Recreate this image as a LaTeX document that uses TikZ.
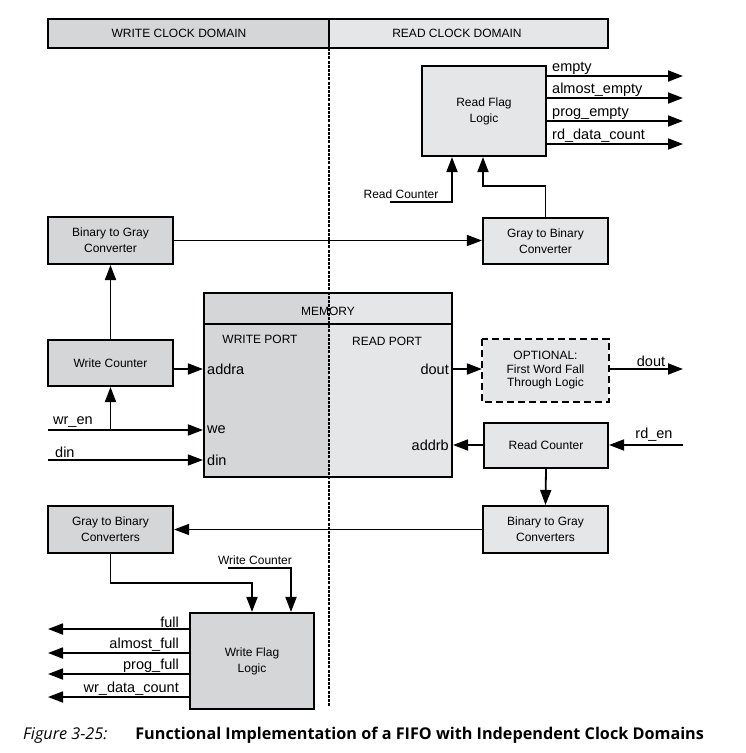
\documentclass[tikz,border=0pt]{standalone}
\usepackage{fontspec}
\setmainfont{Liberation Sans}
\newfontfamily\capfont{Open Sans}
\usetikzlibrary{arrows.meta,positioning,calc}
\definecolor{wrgray}{RGB}{213,214,216}
\definecolor{rdgray}{RGB}{229,230,232}
\tikzset{
  blk/.style={draw,line width=2.1pt,minimum width=125pt,minimum height=46pt,align=center,font=\fontsize{12}{16}\selectfont,inner sep=0pt},
  wblk/.style={blk,fill=wrgray},
  rblk/.style={blk,fill=rdgray},
  sig/.style={line width=1.8pt,-{Triangle[length=15pt,width=11pt]}},
  wire/.style={line width=1.8pt},
  lbl/.style={font=\fontsize{14.5}{16}\selectfont,inner sep=1pt},
  small/.style={font=\fontsize{12}{14}\selectfont,inner sep=1pt},
}
\begin{document}
\begin{tikzpicture}[x=1pt,y=-1pt]
    \useasboundingbox (0,0) rectangle (745,753);

    % clock domain header
    \node[wblk,line width=2.6pt,minimum width=281pt,minimum height=29pt] (whdr) at (188.5,33.5) {};
    \node[rblk,line width=2.6pt,minimum width=279pt,minimum height=29pt] (rhdr) at (468.5,33.5) {};
    \node[small] (wdom) at (179,33) {WRITE CLOCK DOMAIN};
    \node[small] (rdom) at (457,33) {READ CLOCK DOMAIN};

    % read side
    \node[rblk,minimum width=124pt,minimum height=90pt] (rfl) at (484,111) {Read Flag\\Logic};
    \node[rblk] (g2b) at (545.5,241) {Gray to Binary\\Converter};
    \node[rblk,minimum height=61pt,draw=none] (opt) at (545.5,370.5) {OPTIONAL:\\[-2.5pt]First Word Fall\\[-2.5pt]Through Logic};
    \draw[line width=2.8pt,dash pattern=on 7pt off 4pt] (opt.north west) rectangle (opt.south east);
    \node[rblk,minimum width=124pt,minimum height=45pt] (rcnt) at (546,445.5) {Read Counter};
    \node[rblk,minimum height=47pt] (b2gs) at (545.5,529.5) {Binary to Gray\\Converters};

    % write side
    \node[wblk,minimum height=47pt] (b2g) at (110.5,240.5) {Binary to Gray\\Converter};
    \node[wblk] (wcnt) at (110.5,363) {Write Counter};
    \node[wblk,minimum height=47pt] (g2bs) at (110.5,529.5) {Gray to Binary\\Converters};
    \node[wblk,minimum width=124pt,minimum height=96pt] (wfl) at (252,661) {Write Flag\\Logic};

    % memory
    \fill[wrgray] (204,293) rectangle (329,477);
    \fill[rdgray] (329,293) rectangle (452,477);
    \node[draw,line width=2.1pt,minimum width=248pt,minimum height=184pt] (mem) at (328,385) {};
    \draw[line width=1.8pt] (mem.west |- 0,324) -- (mem.east |- 0,324);
    \node[small] (memtxt) at (328,311) {MEMORY};
    \node[small] (wport) at (260,339) {WRITE PORT};
    \node[small] (rport) at (387,341) {READ PORT};
    \node[lbl,anchor=west] (addra) at (206,369) {addra};
    \node[lbl,anchor=west] (we) at (206,430) {we};
    \node[lbl,anchor=west] (din) at (206,460) {din};
    \node[lbl,anchor=east] (dout) at (450,369) {dout};
    \node[lbl,anchor=east] (addrb) at (450,445) {addrb};

    % free ends
    \coordinate (rfout) at (683,0);
    \coordinate (wfout) at (48,0);
    \coordinate (rcin) at (390,202);
    \coordinate (wcin) at (228,568);
    \coordinate (wren) at (48,430);
    \coordinate (dinin) at (48,460);
    \coordinate (doutend) at (683,369);
    \coordinate (rden) at (683,445);

    % read flags
    \foreach \yy/\txt [count=\i] in {76/empty,98/almost\_empty,121/prog\_empty,144/rd\_data\_count}{
        \draw[sig] (rfl.east |- 0,\yy) -- (rfout |- 0,\yy);
        \node[lbl,anchor=south west] (rflag\i) at (551,\yy-0.5) {\txt};
    }
    \draw[sig] (rcin) -| ([xshift=-32pt]rfl.south);
    \node[small,anchor=south] (rclbl) at (401,199.5) {Read Counter};
    \draw[sig] (g2b.north) -- ++(0,-31) -| ([xshift=-1pt]rfl.south);
    \draw[sig,line width=1.5pt] (b2g.east) -- (g2b.west |- b2g.east);

    % write counter path
    \draw[sig] (wcnt.north) -- (b2g.south);
    \draw[sig] (wcnt.east |- addra) -- (mem.west |- addra);
    \draw[sig] (wren) -- (mem.west |- wren);
    \draw[sig] (wcnt.south |- wren) -- (wcnt.south);
    \node[lbl,anchor=south west] (wrenlbl) at (52,428.5) {wr\_en};
    \draw[sig,line width=1.2pt] (dinin) -- (mem.west |- dinin);
    \node[lbl,anchor=south west] (dinlbl) at (54,458.5) {din};

    % read port path
    \draw[sig] (mem.east |- dout) -- (opt.west |- dout);
    \draw[sig] (opt.east |- doutend) -- (doutend);
    \node[lbl,anchor=south] (doutlbl) at (651,368) {dout};
    \draw[sig] (rden) -- (rcnt.east |- rden);
    \node[lbl,anchor=south] (rdenlbl) at (654,442.5) {rd\_en};
    \draw[sig] (rcnt.west |- addrb) -- (mem.east |- addrb);
    \draw[sig] (rcnt.south) -- (b2gs.north);
    \draw[sig,line width=1.5pt] (b2gs.west) -- (g2bs.east |- b2gs.west);

    % write flags
    \draw[sig] (g2bs.south) -- (110.5,583) -| (wfl.north);
    \draw[sig] (wcin) -| ([xshift=39pt]wfl.north);
    \node[small,anchor=south] (wclbl) at (255,565.5) {Write Counter};
    \foreach \yy/\txt [count=\i] in {629/full,653/almost\_full,674/prog\_full,697/wr\_data\_count}{
        \draw[sig] (wfl.west |- 0,\yy) -- (wfout |- 0,\yy);
        \node[lbl,anchor=south east] (wflag\i) at (180,\yy-0.5) {\txt};
    }

    % domain boundary
    \draw[line width=2.8pt,dash pattern=on 3pt off 1.2pt] (329,48) -- (329,707);

    \node[anchor=west,inner sep=0pt] (cap) at (23,735) {\capfont\fontsize{16.2}{18}\selectfont\textit{Figure 3-25:}\hspace{28pt}\textbf{Functional Implementation of a FIFO with Independent Clock Domains}};
\end{tikzpicture}
\end{document}
